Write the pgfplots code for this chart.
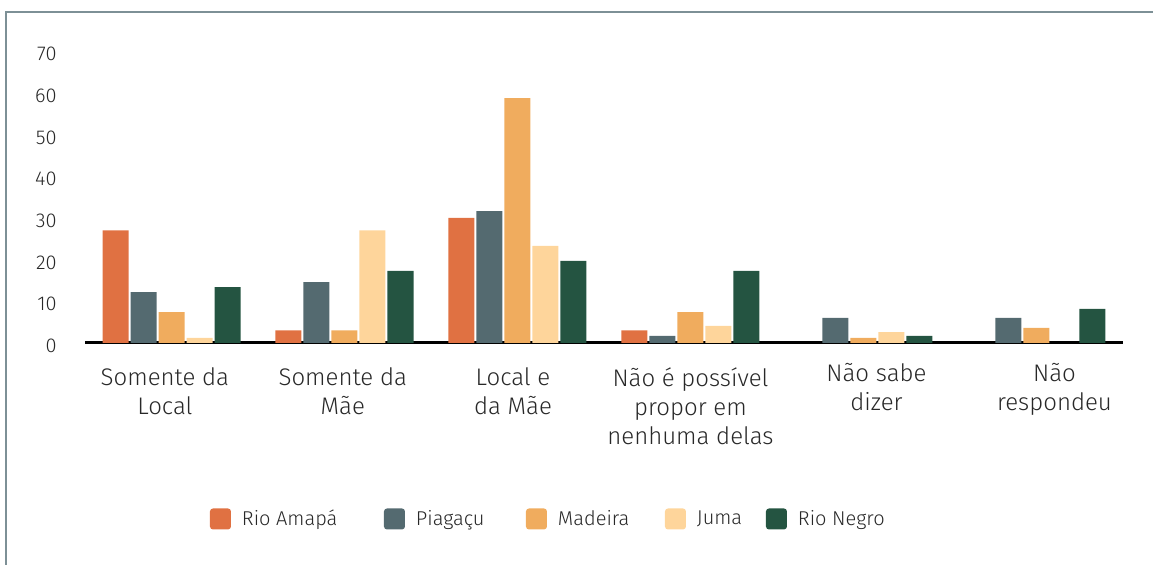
\documentclass[border=0pt]{standalone}
\usepackage{pgfplots}
\pgfplotsset{compat=1.18}
\usepackage{fontspec}
\setmainfont{Fira Sans}[UprightFont=* Light]

\definecolor{amapa}{RGB}{224,113,66}
\definecolor{piagacu}{RGB}{84,106,112}
\definecolor{madeira}{RGB}{240,172,94}
\definecolor{juma}{RGB}{254,213,155}
\definecolor{negro}{RGB}{36,84,65}
\definecolor{txt}{RGB}{40,40,40}
\definecolor{frame}{RGB}{125,144,150}

\pgfplotsset{
  sq/.style={legend image code/.code={%
    \fill[##1,rounded corners=1.5pt] (0pt,-5.25pt) rectangle (10.5pt,5.25pt);}},
}

\begin{document}
\begin{tikzpicture}
\useasboundingbox (0,0) rectangle (576.5pt,-282.5pt);
% outer frame, only top and left edges are visible
\draw[frame,line width=1pt] (3pt,-290pt) -- (3pt,-6pt) -- (590pt,-6pt);

\begin{axis}[
    at={(42.5pt,-171.5pt)}, anchor=south west,
    scale only axis,
    width=519pt, height=146pt,
    xmin=-0.5, xmax=5.5,
    ymin=0, ymax=70,
    ybar=1pt, bar width=13pt,
    axis x line*=bottom,
    axis y line*=left,
    x axis line style={-,black,line width=1.5pt},
    y axis line style={draw=none},
    major tick length=0pt,
    % labels sit slightly off the group centres, as in the source
    xtick={-0.038,0.99,1.974,3.0},
    xticklabels={Somente da\\Local, Somente da\\Mãe, Local e\\da Mãe,
                 Não é possível\\propor em\\nenhuma delas},
    extra x ticks={4.075,5.104},
    extra x tick labels={Não sabe\\dizer, Não\\respondeu},
    extra x tick style={xticklabel style={yshift=2pt}},
    xticklabel style={align=center, anchor=north, inner sep=0pt, yshift=-12pt,
                      font=\fontsize{12}{14.5}\selectfont, text=txt},
    ytick={0,10,...,70},
    yticklabel style={anchor=east, inner sep=0pt, xshift=-14pt, yshift=-1.5pt,
                      font=\fontsize{10}{12}\selectfont, text=txt},
    /pgf/number format/assume math mode=true,
    legend columns=5,
    legend style={at={(0.1204,-0.6027)}, anchor=west, draw=none, fill=none,
                  inner sep=0pt, outer sep=0pt,
                  font=\fontsize{10}{12}\selectfont, text=txt,
                  nodes={inner sep=0pt, anchor=west},
                  /tikz/every odd column/.append style={column sep=5.5pt}},
]
\addplot[fill=amapa, draw=none, sq] coordinates {
    (0,27.0) (1,3.0) (2,30.0) (3,3.0)
};
\addplot[fill=piagacu, draw=none, sq] coordinates {
    (0,12.2) (1,14.6) (2,31.6) (3,1.7) (4,6.0) (5,6.0)
};
\addplot[fill=madeira, draw=none, sq] coordinates {
    (0,7.4) (1,3.0) (2,58.7) (3,7.4) (4,1.2) (5,3.6)
};
\addplot[fill=juma, draw=none, sq] coordinates {
    (0,1.2) (1,27.0) (2,23.3) (3,4.1) (4,2.6)
};
\addplot[fill=negro, draw=none, sq] coordinates {
    (0,13.4) (1,17.3) (2,19.7) (3,17.3) (4,1.7) (5,8.2)
};
\legend{\makebox[71pt][l]{Rio Amapá}, \makebox[55pt][l]{Piagaçu},
        \makebox[53.5pt][l]{Madeira}, \makebox[34.5pt][l]{Juma}, Rio Negro}
\end{axis}
\end{tikzpicture}
\end{document}
